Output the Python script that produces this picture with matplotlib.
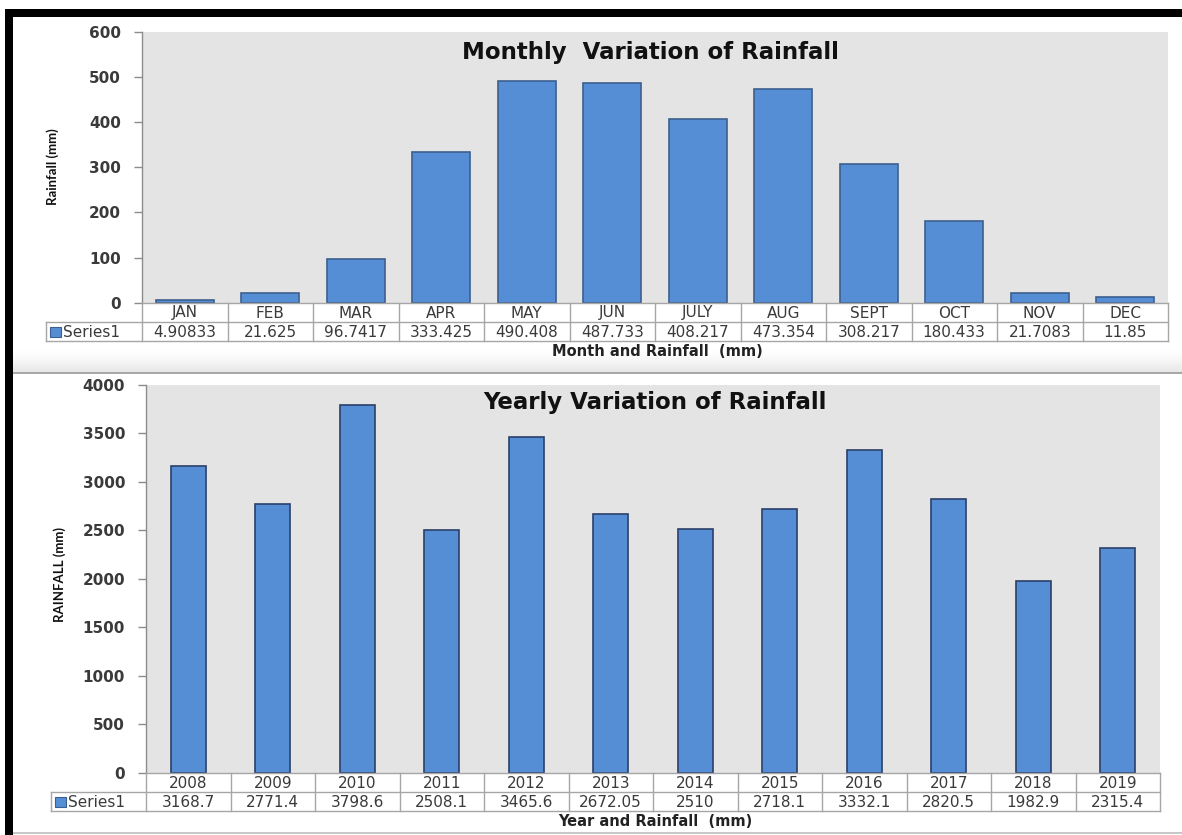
import matplotlib
matplotlib.use("Agg")
import matplotlib.pyplot as plt
import matplotlib.transforms as mtransforms
from matplotlib.patches import Rectangle
import numpy as np

# ---------------- data ----------------
months = ["JAN", "FEB", "MAR", "APR", "MAY", "JUN", "JULY", "AUG", "SEPT", "OCT", "NOV", "DEC"]
monthly_rain = [4.90833, 21.625, 96.7417, 333.425, 490.408, 487.733, 408.217, 473.354,
                308.217, 180.433, 21.7083, 11.85]
years = ["2008", "2009", "2010", "2011", "2012", "2013", "2014", "2015", "2016", "2017", "2018", "2019"]
yearly_rain = [3168.7, 2771.4, 3798.6, 2508.1, 3465.6, 2672.05, 2510, 2718.1, 3332.1,
               2820.5, 1982.9, 2315.4]
series_name = "Series1"
monthly_ticks = [0, 100, 200, 300, 400, 500, 600]
yearly_ticks = [0, 500, 1000, 1500, 2000, 2500, 3000, 3500, 4000]

plt.rcParams["font.family"] = ["DejaVu Sans"]

W, H = 1182, 835
fig = plt.figure(figsize=(W / 100, H / 100), dpi=100)
fig.patch.set_facecolor("white")

# background axes in pixel coordinates
bg = fig.add_axes([0, 0, 1, 1], zorder=-10)
bg.set_xlim(0, W)
bg.set_ylim(H, 0)
bg.axis("off")

# black frame (top and left)
bg.add_patch(Rectangle((5, 9), W - 5, 8, color="black", lw=0))
bg.add_patch(Rectangle((5, 9), 8, H - 9, color="black", lw=0))
# separator shadow between panels
n = 24
for i in range(n):
    g = 1.0 - 0.10 * (i / n) ** 1.5
    bg.add_patch(Rectangle((13, 348 + i), W - 13, 1.05, color=(g, g, g), lw=0))
bg.add_patch(Rectangle((13, 372), W - 13, 2.2, color="#a8a8a8", lw=0))
bg.add_patch(Rectangle((13, 832), W - 13, 1.5, color="#c8c8c8", lw=0))

BAR_FACE = "#558ed5"
PLOT_BG = "#e4e4e4"
TXT = "#3a3a3a"
GRID = "#a6a6a6"


def px_axes(l, t, r, b):
    return fig.add_axes([l / W, 1 - b / H, (r - l) / W, (b - t) / H])


def make_panel(l, t, r, b, cats, vals, ticks, ymax, barw, edge, title, ylabel, xlabel,
               row1, row2, leg_left, ylabel_x, ylabel_y, xlabel_y, title_x, title_y):
    ax = px_axes(l, t, r, b)
    ax.set_facecolor(PLOT_BG)
    x = np.arange(len(cats))
    ax.bar(x, vals, width=barw, color=BAR_FACE, edgecolor=edge, linewidth=1.2, zorder=3)
    ax.set_xlim(-0.5, len(cats) - 0.5)
    ax.set_ylim(0, ymax)
    ax.set_yticks(ticks)
    ax.set_yticklabels([str(t) for t in ticks])
    ax.set_xticks([])
    for s in ["top", "right", "bottom"]:
        ax.spines[s].set_visible(False)
    ax.spines["left"].set_color("#8c8c8c")
    ax.spines["left"].set_linewidth(1.0)
    ax.tick_params(axis="y", direction="out", length=6, width=1, color="#8c8c8c",
                   pad=9, labelsize=11, labelcolor=TXT)
    for lab in ax.get_yticklabels():
        lab.set_fontweight("bold")

    # title inside plot area (drawn by ax, positioned in pixel coords)
    ax.text(title_x, title_y, title, transform=bg.transData, ha="center",
            va="center", fontsize=16.5, fontweight="bold", color="#111111",
            zorder=6, clip_on=False)

    # table below the axes
    tr = mtransforms.blended_transform_factory(ax.transData, bg.transData)
    y0, y1, y2 = row1[0], row1[1], row2[1]
    xl = -0.5
    xr = len(cats) - 0.5
    unit = (r - l) / len(cats)
    xleg = -0.5 - (l - leg_left) / unit
    lw = 1.0
    ax.plot([xl, xr], [y0, y0], transform=tr, color=GRID, lw=lw, clip_on=False, zorder=5)
    ax.plot([xleg, xr], [y1, y1], transform=tr, color=GRID, lw=lw, clip_on=False, zorder=5)
    ax.plot([xleg, xr], [y2, y2], transform=tr, color=GRID, lw=lw, clip_on=False, zorder=5)
    for k in range(len(cats) + 1):
        xv = -0.5 + k
        ax.plot([xv, xv], [y0, y2], transform=tr, color=GRID, lw=lw, clip_on=False, zorder=5)
    ax.plot([xleg, xleg], [y1, y2], transform=tr, color=GRID, lw=lw, clip_on=False, zorder=5)
    for k, (c, v) in enumerate(zip(cats, vals)):
        ax.text(k, (y0 + y1) / 2 + 0.5, c, transform=tr, ha="center", va="center",
                fontsize=11, color=TXT, clip_on=False)
        ax.text(k, (y1 + y2) / 2 + 0.5, "{:g}".format(v), transform=tr, ha="center",
                va="center", fontsize=11, color=TXT, clip_on=False)
    ym = (y1 + y2) / 2
    bg.add_patch(Rectangle((leg_left + 4, ym - 5), 11, 10, facecolor=BAR_FACE,
                           edgecolor="#3d5f8f", lw=0.8, zorder=6))
    bg.text(leg_left + 17, ym + 0.5, series_name, ha="left", va="center", fontsize=11,
            color=TXT, zorder=6)

    # axis labels
    bg.text(ylabel_x, ylabel_y, ylabel, rotation=90, ha="center", va="center",
            fontsize=9.5, fontweight="bold", family=["Lato", "DejaVu Sans"],
            color="#111111")
    bg.text((l + r) / 2 + 2, xlabel_y, xlabel, ha="center", va="center",
            fontsize=10.5, fontweight="bold", color="#222222")
    return ax


make_panel(142, 32, 1168, 302.7, months, monthly_rain, monthly_ticks, 600, 0.68, "#3d5f8f",
           "Monthly  Variation of Rainfall", "Rainfall (mm)", "Month and Rainfall  (mm)",
           (302.7, 322.3), (322.3, 341), 45.7, 53, 167, 352, 650, 52)

make_panel(146, 385, 1160, 772.7, years, yearly_rain, yearly_ticks, 4000, 0.41, "#2b3f6b",
           "Yearly Variation of Rainfall", "RAINFALL (mm)", "Year and Rainfall  (mm)",
           (772.7, 792.3), (792.3, 811), 50.7, 60, 574, 822, 655, 402)

fig.savefig("out.png", dpi=100, facecolor="white")
